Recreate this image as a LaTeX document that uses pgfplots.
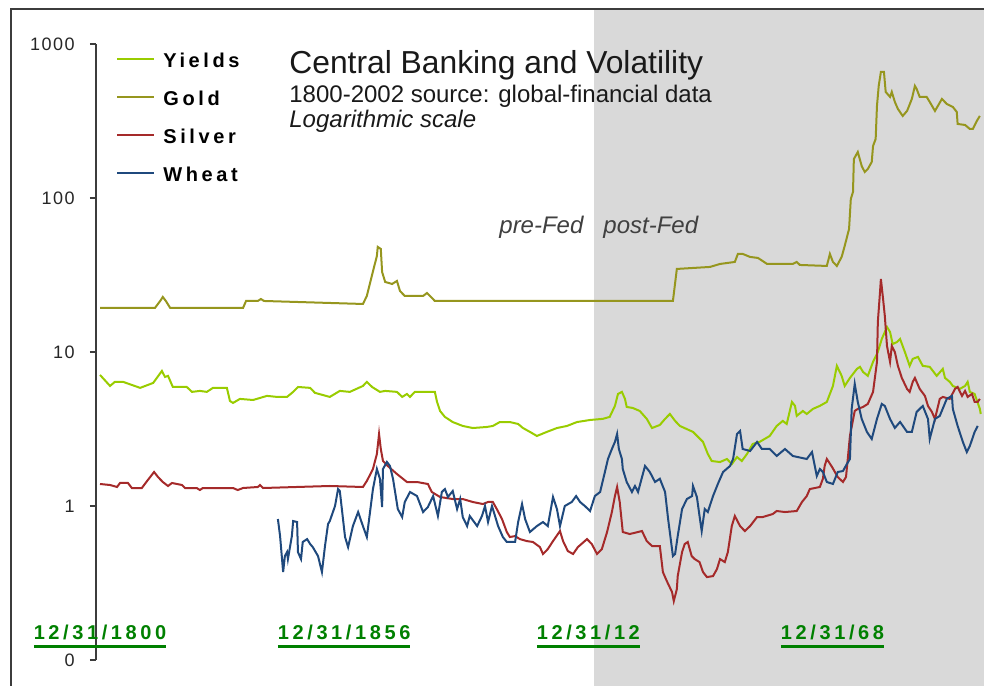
\documentclass[border=0pt]{standalone}
\usepackage{pgfplots}
\pgfplotsset{compat=1.18}
\usepackage{fontspec}
\setmainfont{Liberation Sans}
\newfontfamily\spaced[LetterSpace=18]{Liberation Sans}
\newfontfamily\tickfont[LetterSpace=8]{Liberation Sans}
\definecolor{cyield}{RGB}{153,204,0}
\definecolor{cgold}{RGB}{150,150,30}
\definecolor{csilver}{RGB}{165,42,42}
\definecolor{cwheat}{RGB}{31,73,125}
\definecolor{cgreen}{RGB}{0,128,0}
\definecolor{bgray}{RGB}{217,217,217}
\definecolor{framegray}{RGB}{60,60,60}
\definecolor{fedgray}{RGB}{64,64,64}
\newcommand\ul[1]{\vtop{\hbox{#1}\kern2.8pt\hrule height 1.5pt}}
\begin{document}
\begin{tikzpicture}
\begin{scope}[x=0.5pt,y=-0.5pt]
\useasboundingbox (0,0) rectangle (984,685);
\fill[bgray] (594,10) rectangle (990,690);
\draw[line width=1pt, framegray] (11,690) -- (11,8.5) -- (990,8.5);
\node[anchor=base west, inner sep=0pt, text=black!90, font=\fontsize{15.9}{18}\selectfont] at (289,73.5) {Central Banking and Volatility};
\node[anchor=base west, inner sep=0pt, text=black!90, font=\fontsize{12}{14}\selectfont] at (289,102) {1800-2002 source: global-financial data};
\node[anchor=base west, inner sep=0pt, text=black!90, font=\fontsize{12}{14}\selectfont\itshape] at (289,127) {Logarithmic scale};
\node[anchor=base west, inner sep=0pt, text=fedgray, font=\fontsize{12}{14}\selectfont\itshape] at (499,233) {pre-Fed};
\node[anchor=base west, inner sep=0pt, text=fedgray, font=\fontsize{12}{14}\selectfont\itshape] at (603,233) {post-Fed};
\end{scope}
\begin{axis}[
  at={(48pt,-22pt)}, anchor=north west,
  scale only axis, width=444pt, height=308pt,
  xmin=1799.08, xmax=2002.75,
  ymode=log, ymin=0.1, ymax=1000,
  axis x line*=bottom, axis y line*=left,
  axis line style={-, line width=1pt, framegray},
  x axis line style={draw=none},
  ytick={0.1,1,10,100,1000}, yticklabels={0,1,10,100,1000},
  yminorticks=false, xminorticks=false,
  tick align=outside, major tick length=3pt,
  major tick style={line width=1pt, framegray},
  major x tick style={draw=none},
  yticklabel style={font=\tickfont\fontsize{9}{10}\selectfont, text=black!85, inner sep=0pt, anchor=east, xshift=-7.5pt},
  xtick={1800,1856,1912,1968},
  xticklabels={\ul{12/31/1800},\ul{12/31/1856},\ul{12/31/12},\ul{12/31/68}},
  xticklabel style={font=\spaced\bfseries\fontsize{10}{12}\selectfont, text=cgreen, anchor=base, inner sep=0pt, yshift=13.5pt},
  legend style={at={(axis description cs:0.0225,0.987)}, anchor=north west, draw=none, fill=none,
    font=\spaced\bfseries\fontsize{10}{12}\selectfont, inner sep=0pt, row sep=11.5pt, column sep=4pt,
    nodes={inner sep=0pt, text height=7.5pt, text depth=0pt}},
  legend cell align=left,
  legend image code/.code={\draw[#1] (0pt,0.5pt) -- (18.5pt,0.5pt);},
  every axis plot/.append style={line width=1pt},
]
\addplot[cyield] coordinates {
(1800.0,7.10)(1802.3,6.02)(1803.4,6.40)(1805.3,6.40)(1809.2,5.85)(1812.2,6.30)(1814.2,7.54)(1814.9,6.89)(1815.6,7.00)(1816.7,5.93)(1819.9,5.93)(1821.1,5.51)(1822.9,5.59)(1824.5,5.51)(1825.9,5.85)(1829.1,5.85)(1829.8,4.81)(1830.5,4.67)(1832.1,4.96)(1835.1,4.88)(1838.3,5.19)(1840.6,5.11)(1842.9,5.11)(1844.3,5.51)(1845.4,5.93)(1848.2,5.85)(1849.3,5.43)(1852.7,5.11)(1855.0,5.59)(1857.3,5.51)(1860.3,6.02)(1861.2,6.40)(1862.4,5.93)(1864.2,5.51)(1865.4,5.59)(1868.1,5.51)(1869.3,5.11)(1870.4,5.34)(1871.1,5.11)(1872.2,5.51)(1875.7,5.51)(1876.8,5.51)(1877.3,4.74)(1878.0,4.14)(1879.1,3.79)(1880.9,3.51)(1883.2,3.31)(1885.5,3.21)(1888.7,3.26)(1890.1,3.31)(1891.7,3.51)(1894.0,3.51)(1895.9,3.41)(1897.0,3.21)(1898.6,3.03)(1900.2,2.85)(1902.5,3.03)(1904.8,3.21)(1907.1,3.31)(1909.4,3.51)(1912.4,3.62)(1915.3,3.68)(1916.9,3.79)(1918.1,4.47)(1918.8,5.34)(1919.7,5.51)(1920.4,4.96)(1920.8,4.40)(1922.2,4.33)(1923.8,4.14)(1925.4,3.68)(1926.6,3.21)(1928.4,3.36)(1929.6,3.68)(1930.7,3.96)(1931.9,3.57)(1933.0,3.31)(1936.0,3.03)(1938.3,2.61)(1939.4,2.18)(1940.3,1.96)(1942.2,1.93)(1943.8,2.02)(1944.9,1.87)(1946.1,2.08)(1947.2,1.96)(1948.4,2.18)(1949.7,2.53)(1951.3,2.61)(1953.6,2.85)(1955.2,3.31)(1956.6,3.57)(1957.5,3.41)(1958.7,4.74)(1959.4,4.47)(1959.8,3.85)(1961.2,4.14)(1962.1,3.96)(1963.5,4.27)(1965.1,4.47)(1966.7,4.74)(1968.1,6.02)(1969.0,8.13)(1970.1,7.00)(1970.8,6.02)(1972.0,6.79)(1973.6,7.77)(1974.3,8.01)(1975.0,7.43)(1976.1,7.00)(1977.3,8.63)(1978.4,10.0)(1979.3,12.15)(1980.5,14.54)(1981.2,13.49)(1981.8,11.27)(1982.8,11.61)(1983.5,12.15)(1984.6,10.0)(1985.7,8.13)(1986.4,9.02)(1987.6,9.30)(1988.7,8.13)(1990.3,8.01)(1991.9,7.00)(1993.3,7.77)(1993.8,6.79)(1994.9,6.40)(1995.6,6.02)(1997.2,5.76)(1998.4,6.02)(1999.0,6.40)(1999.5,5.51)(2000.6,5.34)(2001.8,4.27)(2002.0,3.96)
};
\addlegendentry{Yields}
\addplot[cgold] coordinates {
(1800.0,19.32)(1812.6,19.32)(1813.8,21.45)(1814.4,22.77)(1815.1,21.45)(1816.1,19.32)(1832.8,19.32)(1833.5,21.45)(1836.2,21.45)(1836.9,22.10)(1837.6,21.45)(1860.3,20.51)(1861.2,23.11)(1862.4,31.65)(1863.5,42.06)(1863.7,48.13)(1864.4,46.71)(1864.7,33.11)(1865.4,28.51)(1867.0,27.66)(1868.1,28.94)(1868.8,24.91)(1869.9,23.11)(1874.1,23.11)(1875.0,24.18)(1876.8,21.45)(1931.4,21.45)(1932.3,34.63)(1939.9,35.68)(1942.2,37.31)(1945.6,38.45)(1946.3,43.34)(1947.4,43.34)(1949.1,41.44)(1950.9,40.82)(1953.0,37.31)(1958.9,37.31)(1959.8,38.45)(1960.5,36.76)(1966.7,36.21)(1967.4,43.34)(1968.1,38.45)(1969.0,36.21)(1970.1,41.44)(1970.8,48.85)(1971.8,63.00)(1972.2,98.5)(1972.7,109.4)(1972.9,179.2)(1973.8,199.0)(1974.7,161.4)(1975.4,147.5)(1976.1,154.3)(1977.0,171.4)(1977.3,217.7)(1977.9,241.8)(1978.2,396.2)(1978.6,534.4)(1979.1,658.9)(1979.8,658.9)(1980.2,488.5)(1981.2,453.3)(1981.6,488.5)(1982.3,420.6)(1983.0,378.8)(1984.1,341.1)(1985.1,367.6)(1986.2,440.0)(1986.9,534.4)(1987.3,511.0)(1988.0,453.3)(1989.6,453.3)(1990.3,420.6)(1991.5,367.6)(1993.1,440.0)(1994.2,408.2)(1995.6,390.3)(1996.5,362.1)(1996.7,302.6)(1998.4,298.1)(1999.5,280.8)(2000.2,280.8)(2001.1,316.5)(2001.8,341.1)
};
\addlegendentry{Gold}
\addplot[csilver] coordinates {
(1800.0,1.390)(1802.3,1.369)(1803.9,1.329)(1804.6,1.411)(1806.4,1.411)(1807.3,1.309)(1809.6,1.309)(1810.8,1.454)(1812.4,1.663)(1813.3,1.543)(1814.4,1.432)(1815.6,1.349)(1816.5,1.411)(1818.8,1.369)(1819.5,1.309)(1822.2,1.309)(1822.9,1.270)(1823.6,1.309)(1830.5,1.309)(1831.6,1.270)(1832.8,1.309)(1836.2,1.329)(1836.7,1.369)(1837.4,1.309)(1852.7,1.349)(1860.3,1.329)(1861.2,1.454)(1862.6,1.739)(1863.5,2.177)(1864.0,2.937)(1864.4,2.346)(1864.9,1.961)(1866.0,1.820)(1868.1,1.614)(1870.4,1.432)(1872.7,1.432)(1875.2,1.390)(1876.1,1.233)(1878.0,1.144)(1880.9,1.110)(1883.2,1.110)(1885.5,1.062)(1887.8,1.030)(1889.0,1.062)(1890.1,1.062)(1891.0,0.956)(1892.2,0.823)(1893.3,0.678)(1894.0,0.629)(1895.2,0.638)(1896.3,0.610)(1897.9,0.592)(1899.3,0.584)(1900.9,0.541)(1901.6,0.488)(1902.7,0.525)(1903.9,0.592)(1905.5,0.688)(1906.2,0.592)(1907.3,0.510)(1908.5,0.488)(1909.6,0.541)(1911.7,0.610)(1912.8,0.566)(1914.0,0.488)(1915.1,0.525)(1916.3,0.678)(1917.4,0.914)(1918.1,1.161)(1918.6,1.329)(1919.2,1.062)(1919.9,0.678)(1921.5,0.658)(1924.3,0.688)(1925.4,0.592)(1926.6,0.550)(1928.4,0.550)(1929.1,0.3725)(1930.0,0.3255)(1931.2,0.2761)(1931.6,0.2414)(1932.3,0.2887)(1932.5,0.3508)(1933.5,0.5024)(1934.1,0.5663)(1934.8,0.584)(1935.7,0.4732)(1936.4,0.4524)(1937.5,0.4325)(1938.3,0.3725)(1939.2,0.3456)(1940.6,0.3508)(1941.5,0.3895)(1942.2,0.4524)(1943.3,0.4325)(1944.0,0.5024)(1944.9,0.741)(1945.6,0.861)(1946.8,0.741)(1947.9,0.688)(1949.1,0.741)(1950.7,0.848)(1952.0,0.848)(1954.3,0.887)(1955.2,0.928)(1957.1,0.914)(1959.8,0.928)(1961.0,1.062)(1962.1,1.161)(1962.8,1.289)(1965.1,1.329)(1965.8,1.503)(1966.2,1.820)(1966.7,2.020)(1967.9,1.793)(1969.2,1.543)(1970.4,1.432)(1971.1,1.543)(1971.5,2.020)(1972.0,2.851)(1973.1,4.143)(1973.8,4.270)(1975.0,4.399)(1976.1,4.600)(1977.3,5.507)(1978.2,8.627)(1978.4,15.67)(1978.9,24.54)(1979.1,29.81)(1979.6,22.10)(1980.0,17.14)(1980.5,10.94)(1981.2,8.627)(1981.6,10.94)(1982.3,10.0)(1983.0,8.126)(1983.9,6.789)(1985.1,5.76)(1985.7,5.507)(1986.4,6.395)(1986.9,6.789)(1988.0,5.76)(1989.2,5.187)(1989.9,4.466)(1990.8,4.082)(1991.5,3.676)(1992.6,4.959)(1993.3,5.108)(1994.9,4.959)(1996.1,5.76)(1996.7,5.93)(1997.7,5.187)(1998.4,5.59)(1999.0,5.108)(2000.0,5.34)(2000.6,4.741)(2001.3,4.741)(2001.8,4.959)
};
\addlegendentry{Silver}
\addplot[cwheat] coordinates {
(1840.8,0.823)(1841.3,0.638)(1842.0,0.3725)(1842.4,0.4732)(1842.9,0.5024)(1843.1,0.4524)(1844.0,0.638)(1844.3,0.799)(1845.2,0.787)(1845.4,0.5024)(1846.1,0.4524)(1846.5,0.584)(1847.5,0.610)(1848.2,0.5663)(1848.8,0.541)(1850.0,0.4732)(1850.9,0.3725)(1851.6,0.550)(1852.3,0.764)(1852.7,0.799)(1853.9,1.0)(1854.6,1.289)(1855.0,1.2515)(1856.2,0.629)(1856.9,0.541)(1858.0,0.741)(1859.2,0.914)(1860.3,0.741)(1861.2,0.629)(1862.6,1.289)(1863.5,1.739)(1864.2,1.503)(1864.7,0.985)(1864.9,1.739)(1865.8,1.932)(1866.5,1.820)(1867.2,1.503)(1868.3,0.956)(1869.3,0.848)(1869.9,1.062)(1871.1,1.233)(1872.7,1.161)(1874.1,0.914)(1875.2,0.985)(1876.4,1.161)(1877.5,0.861)(1878.4,1.233)(1879.1,1.289)(1879.8,1.144)(1880.9,1.2515)(1881.9,0.956)(1882.6,1.110)(1883.2,0.848)(1884.2,0.741)(1884.8,0.861)(1886.5,0.741)(1887.6,0.861)(1888.3,1.0)(1889.0,0.787)(1889.9,1.0)(1890.6,0.861)(1891.3,0.741)(1892.4,0.629)(1893.3,0.584)(1895.2,0.584)(1895.9,0.787)(1896.8,1.030)(1897.5,0.823)(1898.6,0.678)(1900.2,0.741)(1901.6,0.787)(1902.7,0.741)(1903.9,1.144)(1904.8,0.956)(1905.5,0.741)(1906.6,1.0)(1908.2,1.062)(1909.2,1.161)(1910.1,1.062)(1911.2,1.0)(1912.4,0.928)(1913.5,1.161)(1914.7,1.233)(1915.8,1.663)(1916.5,2.020)(1917.4,2.346)(1918.1,2.606)(1918.6,2.937)(1919.0,2.346)(1919.7,2.020)(1919.9,1.739)(1920.8,1.432)(1922.0,1.233)(1922.7,1.349)(1923.4,1.233)(1925.0,1.820)(1926.1,1.663)(1927.3,1.432)(1928.4,1.503)(1929.6,1.233)(1930.3,0.823)(1931.4,0.4732)(1931.9,0.488)(1932.5,0.638)(1933.5,0.956)(1934.6,1.110)(1935.8,1.161)(1936.0,1.349)(1936.9,1.144)(1937.6,0.823)(1938.0,0.688)(1938.7,0.956)(1939.4,0.914)(1940.6,1.161)(1941.7,1.390)(1942.9,1.663)(1944.5,1.820)(1945.2,2.020)(1946.1,2.937)(1946.8,3.072)(1947.4,2.346)(1949.1,2.277)(1950.7,2.606)(1951.8,2.346)(1953.6,2.346)(1955.2,2.113)(1957.1,2.346)(1958.9,2.113)(1962.1,2.020)(1963.3,2.242)(1964.4,1.567)(1965.1,1.739)(1965.8,1.663)(1966.7,1.432)(1968.1,1.390)(1969.2,1.663)(1970.4,1.688)(1971.3,1.875)(1972.0,2.020)(1972.4,4.270)(1973.1,6.207)(1973.8,4.741)(1974.7,3.676)(1975.9,3.026)(1977.0,2.725)(1978.2,3.676)(1979.3,4.600)(1980.0,4.466)(1981.2,3.676)(1982.3,3.213)(1983.5,3.515)(1985.1,3.026)(1986.2,3.026)(1987.3,4.082)(1988.7,4.466)(1989.9,3.676)(1990.3,2.725)(1991.5,3.676)(1992.6,3.846)(1994.2,4.959)(1995.4,5.187)(1995.6,4.270)(1996.7,3.311)(1997.9,2.606)(1998.8,2.242)(1999.5,2.454)(2000.6,3.026)(2001.3,3.311)
};
\addlegendentry{Wheat}
\end{axis}
\end{tikzpicture}
\end{document}
